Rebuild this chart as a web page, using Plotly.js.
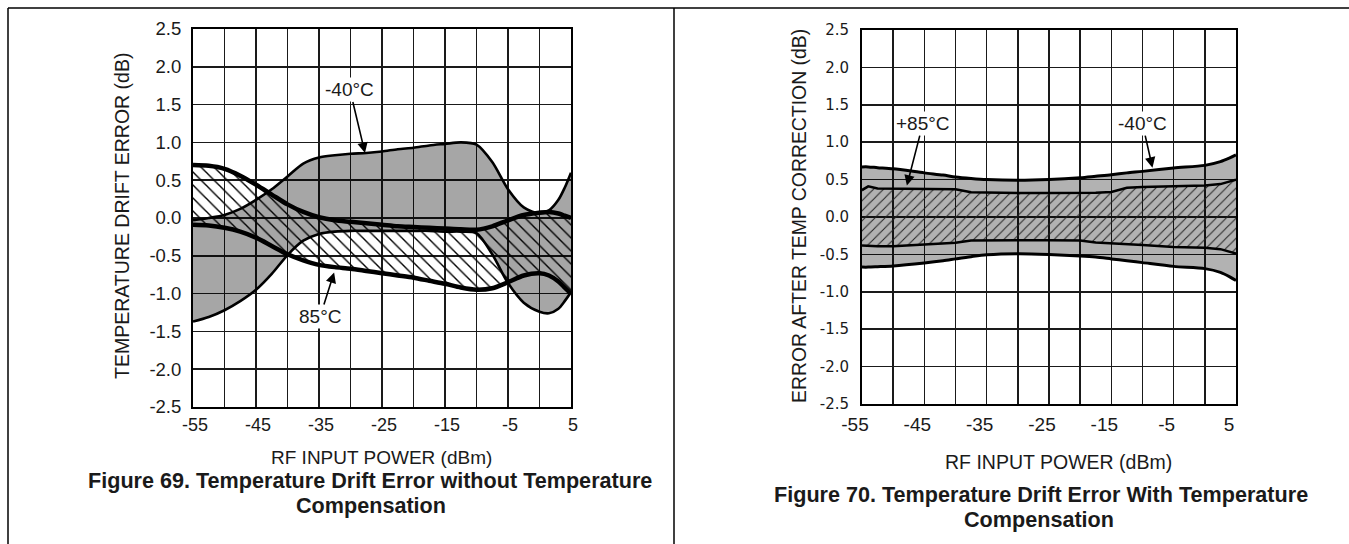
<!DOCTYPE html>
<html><head><meta charset="utf-8">
<script src="https://cdn.plot.ly/plotly-3.0.1.min.js"></script>
<style>html,body{margin:0;padding:0;background:#fff;} #chart{width:1349px;height:544px;}</style>
</head><body><div id="chart"></div>
<script>
// ---------- Figure 69 data (without compensation) ----------
const x69 = [-55,-52.5,-50,-47.5,-45,-42.5,-40,-37.5,-35,-32.5,-30,-27.5,-25,-22.5,-20,-17.5,-15,-12.5,-10,-7.5,-5,-2.5,0,1.5,3,4,5];
const m40Upper69 = [-0.03,0.0,0.04,0.12,0.24,0.38,0.55,0.72,0.80,0.83,0.85,0.86,0.88,0.91,0.93,0.96,0.98,1.0,0.97,0.74,0.38,0.14,0.06,0.10,0.24,0.40,0.60];
const m40Lower69 = [-1.37,-1.31,-1.22,-1.10,-0.95,-0.74,-0.49,-0.30,-0.21,-0.18,-0.17,-0.17,-0.17,-0.17,-0.17,-0.17,-0.18,-0.18,-0.20,-0.48,-0.86,-1.12,-1.24,-1.26,-1.20,-1.10,-0.98];
const p85Upper69 = [0.70,0.69,0.65,0.56,0.44,0.31,0.18,0.08,0.01,-0.03,-0.05,-0.07,-0.09,-0.11,-0.12,-0.13,-0.14,-0.15,-0.155,-0.11,-0.03,0.04,0.07,0.08,0.06,0.03,0.0];
const p85Lower69 = [-0.09,-0.10,-0.13,-0.18,-0.26,-0.37,-0.48,-0.56,-0.62,-0.65,-0.67,-0.70,-0.73,-0.76,-0.79,-0.83,-0.87,-0.92,-0.95,-0.93,-0.85,-0.76,-0.73,-0.76,-0.84,-0.92,-1.0];

// ---------- Figure 70 data (with compensation) ----------
const x70 = [-55,-54,-52.5,-50,-45,-42,-40,-37.5,-35,-30,-25,-20,-17.5,-15,-12.5,-10,-5,0,2.5,4,5];
const m40Upper70 = [0.67,0.67,0.66,0.645,0.59,0.56,0.535,0.515,0.50,0.49,0.50,0.525,0.545,0.565,0.59,0.61,0.655,0.69,0.74,0.79,0.83];
const m40Lower70 = [-0.67,-0.67,-0.665,-0.655,-0.615,-0.585,-0.56,-0.53,-0.505,-0.49,-0.50,-0.52,-0.535,-0.56,-0.585,-0.61,-0.66,-0.69,-0.74,-0.80,-0.85];
const p85Upper70 = [0.36,0.41,0.38,0.378,0.375,0.372,0.37,0.33,0.325,0.32,0.32,0.322,0.325,0.335,0.39,0.40,0.41,0.42,0.44,0.47,0.50];
const p85Lower70 = [-0.38,-0.385,-0.39,-0.39,-0.365,-0.355,-0.345,-0.315,-0.31,-0.31,-0.31,-0.315,-0.34,-0.355,-0.365,-0.375,-0.40,-0.41,-0.43,-0.46,-0.49];

// ---------- ticks ----------
const xTickVals = [-55,-50,-45,-40,-35,-30,-25,-20,-15,-10,-5,0,5];
const xTickText = ['-55','','-45','','-35','','-25','','-15','','-5','','5'];
const yTickVals = [2.5,2.0,1.5,1.0,0.5,0.0,-0.5,-1.0,-1.5,-2.0,-2.5];
const yTickText = ['2.5','2.0','1.5','1.0','0.5','0.0','-0.5','-1.0','-1.5','-2.0','-2.5'];

const W = 1349, H = 544;
const px = v => v / W;
const py = v => 1 - v / H;
const SANS = 'Liberation Sans, Arial, sans-serif';

function ln(x, y, xa, ya, width, shape, extra) {
  return Object.assign({x: x, y: y, xaxis: xa, yaxis: ya, mode: 'lines',
    line: {color: '#000', width: width, shape: shape, smoothing: 0.8},
    hoverinfo: 'skip', showlegend: false}, extra || {});
}

const traces = [
  ln(x69, m40Lower69, 'x', 'y', 2.6, 'spline'),
  ln(x69, m40Upper69, 'x', 'y', 2.6, 'spline', {fill: 'tonexty', fillcolor: 'rgba(0,0,0,0.35)'}),
  ln(x69, p85Lower69, 'x', 'y', 4.5, 'spline'),
  ln(x69, p85Upper69, 'x', 'y', 4.5, 'spline', {fill: 'tonexty', fillcolor: 'rgba(0,0,0,0)',
     fillpattern: {shape: '\\', fgcolor: '#000', bgcolor: 'rgba(0,0,0,0)', size: 9.2, solidity: 0.15}}),
  ln(x70, m40Lower70, 'x2', 'y2', 3, 'spline'),
  ln(x70, m40Upper70, 'x2', 'y2', 3, 'spline', {fill: 'tonexty', fillcolor: 'rgba(0,0,0,0.3)'}),
  ln(x70, p85Lower70, 'x2', 'y2', 2.5, 'linear'),
  ln(x70, p85Upper70, 'x2', 'y2', 2.5, 'linear', {fill: 'tonexty', fillcolor: 'rgba(0,0,0,0)',
     fillpattern: {shape: '/', fgcolor: '#222', bgcolor: 'rgba(0,0,0,0)', size: 7.1, solidity: 0.14}})
];

const axBase = {showline: true, mirror: true, linecolor: '#000', linewidth: 2, showgrid: true,
  gridcolor: '#1a1a1a', gridwidth: 1.5, zeroline: false, ticks: '', fixedrange: true, tickmode: 'array'};

function txt(x, y, text, size, extra) {
  return Object.assign({xref: 'paper', yref: 'paper', x: px(x), y: py(y), xanchor: 'center', yanchor: 'middle',
    text: text, showarrow: false, font: {family: SANS, size: size, color: '#1a1a1a'}}, extra || {});
}
function ptr(xa, ya, x, y, ax, ay, text) {
  return {xref: xa, yref: ya, x: x, y: y, ax: ax, ay: ay, text: text, showarrow: true,
    arrowhead: 2, arrowsize: 1.3, arrowwidth: 1.6, arrowcolor: '#000', bgcolor: '#fff',
    xanchor: 'center', yanchor: 'middle', font: {family: SANS, size: 19, color: '#1a1a1a'}};
}

const layout = {
  width: W, height: H, margin: {l: 0, r: 0, t: 0, b: 0},
  paper_bgcolor: '#fff', plot_bgcolor: '#fff', showlegend: false,
  xaxis: Object.assign({}, axBase, {domain: [px(193), px(571)], range: [-55, 5], anchor: 'y',
    tickvals: xTickVals, ticktext: xTickText, ticklabelstandoff: 0, ticklabelshift: 2,
    tickfont: {family: SANS, size: 18, color: '#1a1a1a'}}),
  yaxis: Object.assign({}, axBase, {domain: [py(407), py(29)], range: [-2.5, 2.5], anchor: 'x',
    tickvals: yTickVals, ticktext: yTickText, ticklabelstandoff: 6,
    tickfont: {family: SANS, size: 18.5, color: '#1a1a1a'}}),
  xaxis2: Object.assign({}, axBase, {domain: [px(862), px(1236)], range: [-55, 5], anchor: 'y2',
    tickvals: xTickVals, ticktext: xTickText, ticklabelstandoff: 2, ticklabelshift: -7,
    tickfont: {family: SANS, size: 19, color: '#1a1a1a'}}),
  yaxis2: Object.assign({}, axBase, {domain: [py(404), py(30)], range: [-2.5, 2.5], anchor: 'x2',
    tickvals: yTickVals, ticktext: yTickText, ticklabelstandoff: 8,
    tickfont: {family: 'DejaVu Sans, sans-serif', size: 15, color: '#1a1a1a'}}),
  annotations: [
    txt(122, 216, 'TEMPERATURE DRIFT ERROR (dB)', 19.5, {textangle: -90}),
    txt(799, 216, 'ERROR AFTER TEMP CORRECTION (dB)', 19.4, {textangle: -90}),
    txt(382, 457, 'RF INPUT POWER (dBm)', 19),
    txt(1058, 462, 'RF INPUT POWER (dBm)', 19.5),
    txt(370, 480, '<b>Figure 69. Temperature Drift Error without Temperature</b>', 21.6),
    txt(371, 505, '<b>Compensation</b>', 21.6),
    txt(1041, 494, '<b>Figure 70. Temperature Drift Error With Temperature</b>', 21.6),
    txt(1039, 519, '<b>Compensation</b>', 21.6),
    ptr('x', 'y', -27.7, 0.86, -15, -63, '-40°C'),
    ptr('x', 'y', -32.6, -0.72, -14, 44, '85°C'),
    ptr('x2', 'y2', -47.8, 0.42, 16, -62, '+85°C'),
    ptr('x2', 'y2', -8.4, 0.66, -10, -44, '-40°C')
  ],
  shapes: [
    {type: 'line', xref: 'paper', yref: 'paper', x0: px(8), x1: px(8), y0: py(8), y1: 0, line: {color: '#000', width: 1.5}},
    {type: 'line', xref: 'paper', yref: 'paper', x0: px(8), x1: 1, y0: py(8), y1: py(8), line: {color: '#000', width: 1.5}},
    {type: 'line', xref: 'paper', yref: 'paper', x0: px(674), x1: px(674), y0: py(8), y1: 0, line: {color: '#000', width: 1.5}}
  ]
};

Plotly.newPlot('chart', traces, layout, {staticPlot: true, displayModeBar: false});
</script>
</body></html>
